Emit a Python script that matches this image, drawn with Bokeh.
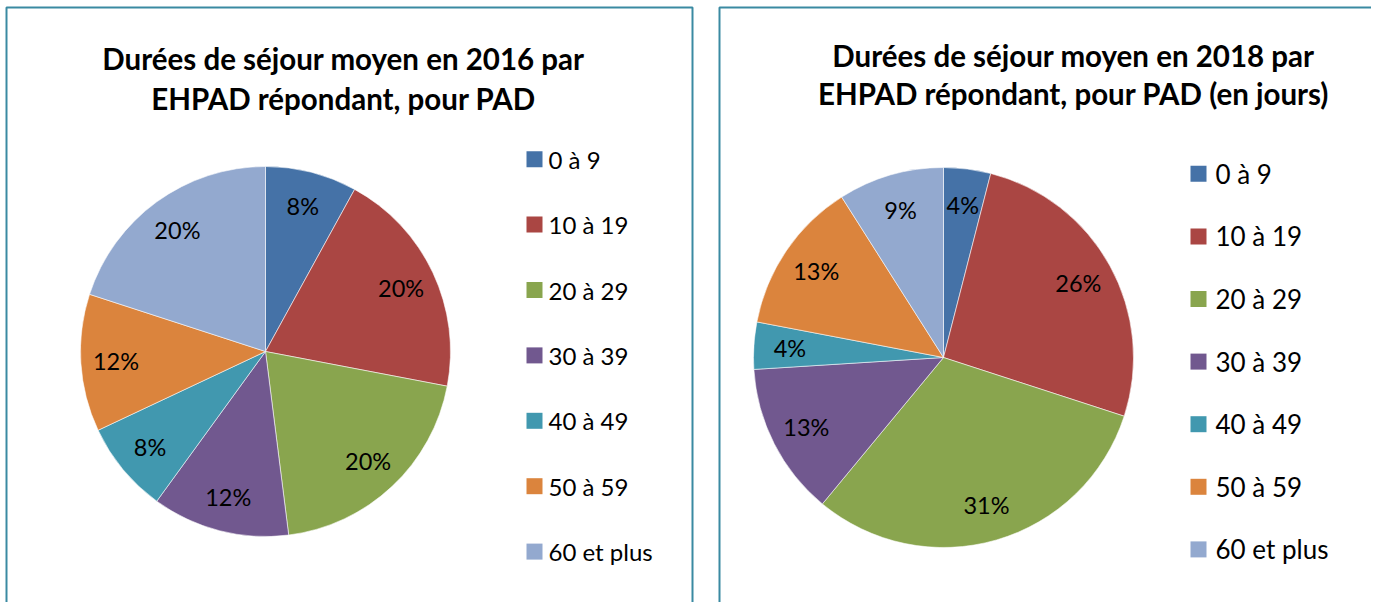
import math
from bokeh.plotting import figure
from bokeh.models import Range1d, ColumnDataSource
from bokeh.core.properties import value
from bokeh.embed import file_html
from bokeh.resources import INLINE

# ---------------- data ----------------
categories = ["0 à 9", "10 à 19", "20 à 29", "30 à 39", "40 à 49", "50 à 59", "60 et plus"]
pct_2016 = [8, 20, 20, 12, 8, 12, 20]
pct_2018 = [4, 26, 31, 13, 4, 13, 9]
colors = ["#4572A7", "#AA4643", "#89A54E", "#71588F", "#4198AF", "#DB843D", "#93A9CF"]
title_2016 = ["Durées de séjour moyen en 2016 par", "EHPAD répondant, pour PAD"]
title_2018 = ["Durées de séjour moyen en 2018 par", "EHPAD répondant, pour PAD (en jours)"]

W, H = 1371, 602


def Y(py):
    # picture pixel y -> data y (data y grows upward)
    return H - py


p = figure(width=W, height=H, output_backend="svg", toolbar_location=None,
           x_range=Range1d(0, W), y_range=Range1d(0, H),
           min_border=0, min_border_left=0, min_border_right=0,
           min_border_top=0, min_border_bottom=0)
p.axis.visible = False
p.grid.visible = False
p.outline_line_color = None
p.background_fill_color = "white"
p.border_fill_color = "white"

BORDER = "#3A8AA2"
# panel borders
p.line(x=[6, 6, 692, 692], y=[Y(H), Y(7), Y(7), Y(H)], line_color=BORDER, line_width=2)
p.line(x=[719, 719, W], y=[Y(H), Y(7), Y(7)], line_color=BORDER, line_width=2)


def draw_panel(vals, cx, cy, r, title_lines, tx, centers, title_size,
               leg_sq_x, leg_txt_x, leg_y0, leg_step, leg_size):
    total = float(sum(vals))
    starts, ends, lx, ly, labels = [], [], [], [], []
    cum = 0.0
    for v in vals:
        a0 = math.pi / 2 - 2 * math.pi * cum / total
        cum += v
        a1 = math.pi / 2 - 2 * math.pi * cum / total
        starts.append(a0)
        ends.append(a1)
        mid = (a0 + a1) / 2
        lx.append(cx + 0.81 * r * math.cos(mid))
        ly.append(Y(cy) + 0.81 * r * math.sin(mid))
        labels.append(f"{v}%")
    src = ColumnDataSource(dict(start=starts, end=ends, color=colors, lx=lx, ly=ly, lab=labels))
    p.wedge(x=cx, y=Y(cy), radius=r, start_angle="start", end_angle="end", direction="clock",
            fill_color="color", line_color="white", line_width=0.8, line_alpha=0.7, source=src)
    p.text(x="lx", y="ly", text="lab", source=src, text_font=value("Lato"),
           text_font_size="23.5px", text_align="center", text_baseline="middle",
           text_color="black")
    # title
    for line, c in zip(title_lines, centers):
        p.text(x=[tx], y=[Y(c)], text=[line], text_font=value("Lato"), text_font_style="bold",
               text_font_size=f"{title_size}px", text_align="center",
               text_baseline="middle", text_color="black")
    # legend
    ly_leg = [Y(leg_y0 + i * leg_step) for i in range(len(categories))]
    lsrc = ColumnDataSource(dict(y=ly_leg, color=colors, cat=categories))
    p.rect(x=leg_sq_x, y="y", width=16, height=16, fill_color="color", line_color=None, source=lsrc)
    p.text(x=leg_txt_x, y="y", text="cat", source=lsrc, text_font=value("Lato"),
           text_font_size=f"{leg_size}px", text_align="left", text_baseline="middle",
           text_color="black")


draw_panel(pct_2016, 265, 351, 185, title_2016, 343, [58, 98], 29.5,
           534, 548, 158.7, 65.4, 24)
draw_panel(pct_2018, 943, 357, 190, title_2018, 1073, [54.5, 92.5], 29.5,
           1198, 1215, 173.3, 62.6, 26)

open("out.html", "w").write(file_html(p, INLINE))
